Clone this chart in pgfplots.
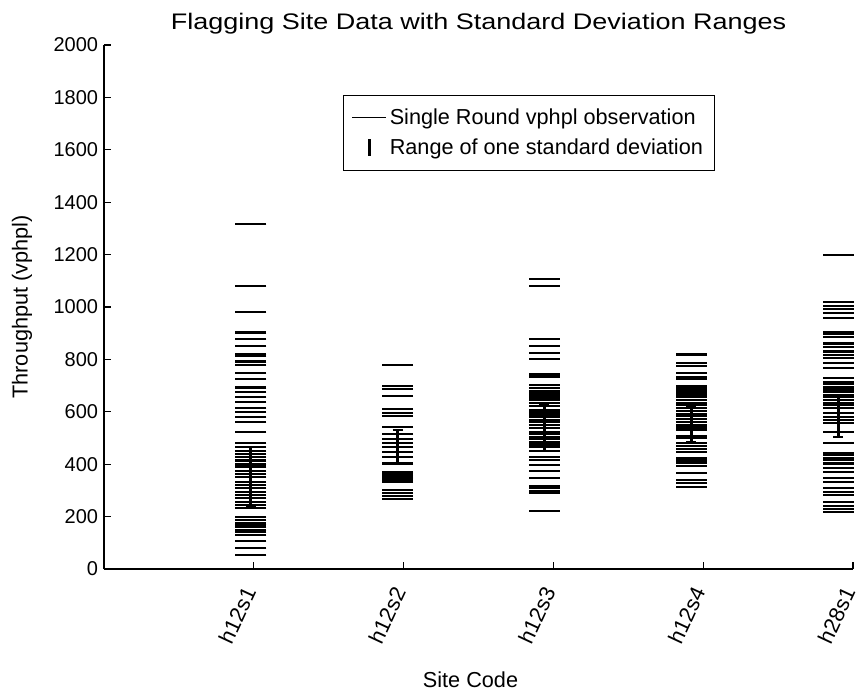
\documentclass[border=0pt]{standalone}
\usepackage{fontspec}
\setmainfont{Liberation Sans}
\newfontfamily\titlefont{Liberation Sans}[FakeStretch=1.2]
\usepackage{pgfplots}
\pgfplotsset{compat=1.18}
\usepackage{pgfplotstable}
\usetikzlibrary{calc}

% single-round observations (x = site position, y = vphpl)
\pgfplotstableread{
x y
0.98 1317
0.98 1080
0.98 982
0.98 903
0.98 877
0.98 851
0.98 822
0.98 812
0.98 792
0.98 780
0.98 747
0.98 725
0.98 693
0.98 676
0.98 658
0.98 639
0.98 613
0.98 599
0.98 581
0.98 562
0.98 524
0.98 480
0.98 467
0.98 452
0.98 439
0.98 426
0.98 414
0.98 401
0.98 391
0.98 375
0.98 363
0.98 350
0.98 333
0.98 321
0.98 308
0.98 295
0.98 282
0.98 270
0.98 257
0.98 244
0.98 232
0.98 200
0.98 187
0.98 174
0.98 162
0.98 149
0.98 140
0.98 130
0.98 108
0.98 79
0.98 53
1.96 779
1.96 700
1.96 686
1.96 660
1.96 610
1.96 597
1.96 584
1.96 541
1.96 514
1.96 495
1.96 480
1.96 465
1.96 448
1.96 429
1.96 403
1.96 371
1.96 365
1.96 359
1.96 352
1.96 346
1.96 340
1.96 333
1.96 302
1.96 291
1.96 279
1.96 268
2.94 1107
2.94 1081
2.94 877
2.94 851
2.94 826
2.94 800
2.94 744
2.94 738
2.94 732
2.94 702
2.94 690
2.94 679
2.94 670
2.94 662
2.94 654
2.94 645
2.94 635
2.94 622
2.94 607
2.94 598
2.94 590
2.94 580
2.94 570
2.94 560
2.94 550
2.94 537
2.94 524
2.94 515
2.94 505
2.94 495
2.94 485
2.94 475
2.94 465
2.94 452
2.94 429
2.94 416
2.94 397
2.94 375
2.94 346
2.94 318
2.94 308
2.94 298
2.94 289
2.94 223
3.92 819
3.92 785
3.92 776
3.92 747
3.92 734
3.92 724
3.92 698
3.92 690
3.92 683
3.92 674
3.92 665
3.92 655
3.92 645
3.92 635
3.92 625
3.92 615
3.92 603
3.92 593
3.92 583
3.92 573
3.92 562
3.92 550
3.92 540
3.92 530
3.92 509
3.92 499
3.92 482
3.92 470
3.92 459
3.92 448
3.92 422
3.92 413
3.92 404
3.92 394
3.92 365
3.92 340
3.92 329
3.92 314
4.90 1198
4.90 1020
4.90 1005
4.90 992
4.90 978
4.90 957
4.90 906
4.90 896
4.90 887
4.90 861
4.90 846
4.90 830
4.90 817
4.90 804
4.90 785
4.90 766
4.90 730
4.90 715
4.90 705
4.90 695
4.90 685
4.90 675
4.90 665
4.90 655
4.90 645
4.90 635
4.90 625
4.90 613
4.90 594
4.90 581
4.90 569
4.90 556
4.90 524
4.90 480
4.90 444
4.90 434
4.90 425
4.90 416
4.90 403
4.90 387
4.90 371
4.90 346
4.90 333
4.90 308
4.90 295
4.90 282
4.90 257
4.90 242
4.90 230
4.90 219
}\obs

\begin{document}
\begin{tikzpicture}
\begin{axis}[
  scale only axis,
  width=449.4pt, height=314.4pt,
  xmin=0, xmax=5, ymin=0, ymax=2000,
  axis lines=left,
  axis line style={-, line width=0.8pt, black},
  tick align=inside,
  major tick length=4pt,
  tick style={black, line width=0.8pt},
  xtick={1,2,3,4,5},
  xticklabels={h12s1,h12s2,h12s3,h12s4,h28s1},
  ytick={0,200,...,2000},
  /pgf/number format/assume math mode=true,
  /pgf/number format/1000 sep={},
  ticklabel style={font=\fontsize{12}{14}\selectfont},
  xticklabel style={font=\fontsize{13}{15}\selectfont,
    xshift=-1pt, yshift=-8.4pt, rotate=65, anchor=east},
  title={\titlefont Flagging Site Data with Standard Deviation Ranges},
  title style={at={(0.5,1)}, anchor=base, yshift=3pt,
    font=\fontsize{13.5}{16}\selectfont},
  xlabel={Site Code},
  xlabel style={at={(axis description cs:0.5,0)}, anchor=center,
    yshift=-66.6pt, xshift=-4.8pt, font=\fontsize{13}{15}\selectfont},
  ylabel={Throughput (vphpl)},
  ylabel style={at={(axis description cs:0,0.5)}, anchor=center,
    yshift=49.2pt, font=\fontsize{13}{15}\selectfont},
  legend style={at={(0.319,0.905)}, anchor=north west, draw=black,
    line width=0.6pt, font=\fontsize{13}{15.6}\selectfont,
    inner xsep=5pt, inner ysep=6pt, row sep=3pt},
  legend cell align=left,
  clip=false
]
  \addplot[black, only marks, mark=-, mark size=9.3pt,
    mark options={line width=1.3pt},
    legend image code/.code={\draw[black, line width=0.8pt] (0pt,0pt) -- (20pt,0pt);}]
    table {\obs};
  \addlegendentry{Single Round vphpl observation}

  \addplot[black, draw=none, mark=none,
    legend image code/.code={\draw[black, line width=1.8pt] (10pt,-5pt) -- (10pt,5pt);},
    error bars/.cd, y dir=both, y explicit,
    error bar style={draw=black, line width=1.8pt},
    error mark options={draw=black, rotate=90, mark size=3pt, line width=1pt}]
    coordinates {
      (0.98,352) +- (0,115)
      (1.96,467) +- (0,64)
      (2.94,539) +- (0,87)
      (3.92,552) +- (0,67)
      (4.90,581) +- (0,76)
    };
  \addlegendentry{Range of one standard deviation}
\end{axis}
\pgfresetboundingbox
\path ($(current axis.south west)+(-62.4pt,-73.8pt)$) rectangle
      ($(current axis.north east)+(2.4pt,27pt)$);
\end{tikzpicture}
\end{document}
